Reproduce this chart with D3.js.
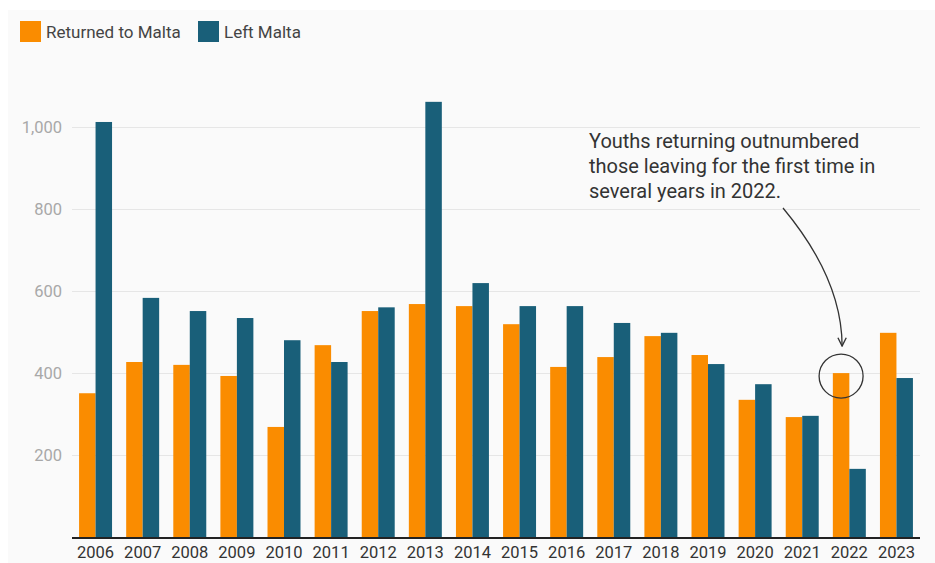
<!DOCTYPE html>
<html>
<head>
<meta charset="utf-8">
<script src="https://cdn.jsdelivr.net/npm/d3@7"></script>
<style>
  body { margin: 0; background: #fff; }
  svg { display: block; font-family: Roboto, sans-serif; }
</style>
</head>
<body>
<div id="chart"></div>
<script>
var years = ["2006", "2007", "2008", "2009", "2010", "2011", "2012", "2013", "2014",
             "2015", "2016", "2017", "2018", "2019", "2020", "2021", "2022", "2023"];
var returned = [351, 427, 420, 393, 269, 468, 551, 568, 563, 519, 415, 439, 490, 444, 335, 293, 400, 498];
var left = [1011, 583, 551, 534, 480, 427, 560, 1060, 619, 563, 563, 522, 498, 422, 373, 296, 167, 388];
var seriesNames = ["Returned to Malta", "Left Malta"];
var yTicks = [200, 400, 600, 800, 1000];
var note = ["Youths returning outnumbered", "those leaving for the first time in", "several years in 2022."];

var W = 935, H = 563;
var margin = {top: 126, right: 15, bottom: 25, left: 72};
var colors = ["#fa8c00", "#195f79"];

var svg = d3.select("#chart").append("svg")
    .attr("width", W)
    .attr("height", H);

// panel background
svg.append("rect")
    .attr("x", 8).attr("y", 10)
    .attr("width", W - 8).attr("height", H - 10)
    .attr("fill", "#fafafa");

var x = d3.scaleBand()
    .domain(years)
    .range([margin.left, 920])
    .paddingInner(0.3)
    .paddingOuter(0.15);

var xSub = d3.scaleBand()
    .domain(seriesNames)
    .range([0, x.bandwidth()]);

var y = d3.scaleLinear()
    .domain([0, 1000])
    .range([537.5, 126.5]);

// gridlines
svg.append("g")
    .selectAll("line")
    .data(yTicks)
    .join("line")
    .attr("x1", margin.left)
    .attr("x2", 920)
    .attr("y1", function (d) { return Math.round(y(d)) + 0.5; })
    .attr("y2", function (d) { return Math.round(y(d)) + 0.5; })
    .attr("stroke", "#e6e6e6")
    .attr("stroke-width", 1);

// y labels
svg.append("g")
    .selectAll("text")
    .data(yTicks)
    .join("text")
    .attr("x", 62)
    .attr("y", function (d) { return y(d) + 6; })
    .attr("text-anchor", "end")
    .attr("fill", "#a8a8a8")
    .style("font-size", "16.5px")
    .text(function (d) { return d3.format(",")(d); });

// bars
var rows = years.map(function (yr, i) {
    return {year: yr, vals: [{k: seriesNames[0], v: returned[i], c: colors[0]},
                             {k: seriesNames[1], v: left[i], c: colors[1]}]};
});

var groups = svg.append("g")
    .selectAll("g")
    .data(rows)
    .join("g")
    .attr("transform", function (d) { return "translate(" + x(d.year) + ",0)"; });

groups.selectAll("rect")
    .data(function (d) { return d.vals; })
    .join("rect")
    .attr("x", function (d) { return xSub(d.k); })
    .attr("y", function (d) { return y(d.v); })
    .attr("width", xSub.bandwidth())
    .attr("height", function (d) { return y(0) - y(d.v); })
    .attr("fill", function (d) { return d.c; });

// baseline
svg.append("line")
    .attr("x1", margin.left)
    .attr("x2", 920)
    .attr("y1", 538)
    .attr("y2", 538)
    .attr("stroke", "#222")
    .attr("stroke-width", 2);

// x labels
svg.append("g")
    .selectAll("text")
    .data(years)
    .join("text")
    .attr("x", function (d) { return x(d) + x.bandwidth() / 2; })
    .attr("y", 558)
    .attr("text-anchor", "middle")
    .attr("fill", "#333")
    .style("font-size", "16.5px")
    .text(function (d) { return d; });

// legend
var leg = svg.append("g");
var legX = [20, 198];
seriesNames.forEach(function (name, i) {
    leg.append("rect")
        .attr("x", legX[i]).attr("y", 21)
        .attr("width", 21).attr("height", 21)
        .attr("fill", colors[i]);
    leg.append("text")
        .attr("x", legX[i] + 26)
        .attr("y", 38)
        .attr("fill", "#444")
        .style("font-size", "17px")
        .text(name);
});

// annotation
var ann = svg.append("g");
ann.selectAll("text")
    .data(note)
    .join("text")
    .attr("x", 589)
    .attr("y", function (d, i) { return 148 + i * 25; })
    .attr("fill", "#333")
    .style("font-size", "20px")
    .text(function (d) { return d; });

svg.append("defs").append("marker")
    .attr("id", "arrow")
    .attr("viewBox", "0 0 10 10")
    .attr("refX", 9).attr("refY", 5)
    .attr("markerWidth", 8).attr("markerHeight", 8)
    .attr("orient", "auto")
    .append("path")
    .attr("d", "M1,1 L9,5 L1,9")
    .attr("fill", "none")
    .attr("stroke", "#333")
    .attr("stroke-width", 1.3);

var cx = x("2022") + xSub(seriesNames[0]) + xSub.bandwidth() / 2;
var cy = y(400) + 3;
ann.append("path")
    .attr("d", "M783,208 Q" + (cx + 1) + ",279 " + (cx + 1) + "," + (cy - 30))
    .attr("fill", "none")
    .attr("stroke", "#333")
    .attr("stroke-width", 1.3)
    .attr("marker-end", "url(#arrow)");

ann.append("circle")
    .attr("cx", cx)
    .attr("cy", cy)
    .attr("r", 22)
    .attr("fill", "none")
    .attr("stroke", "#333")
    .attr("stroke-width", 1.3);
</script>
</body>
</html>
